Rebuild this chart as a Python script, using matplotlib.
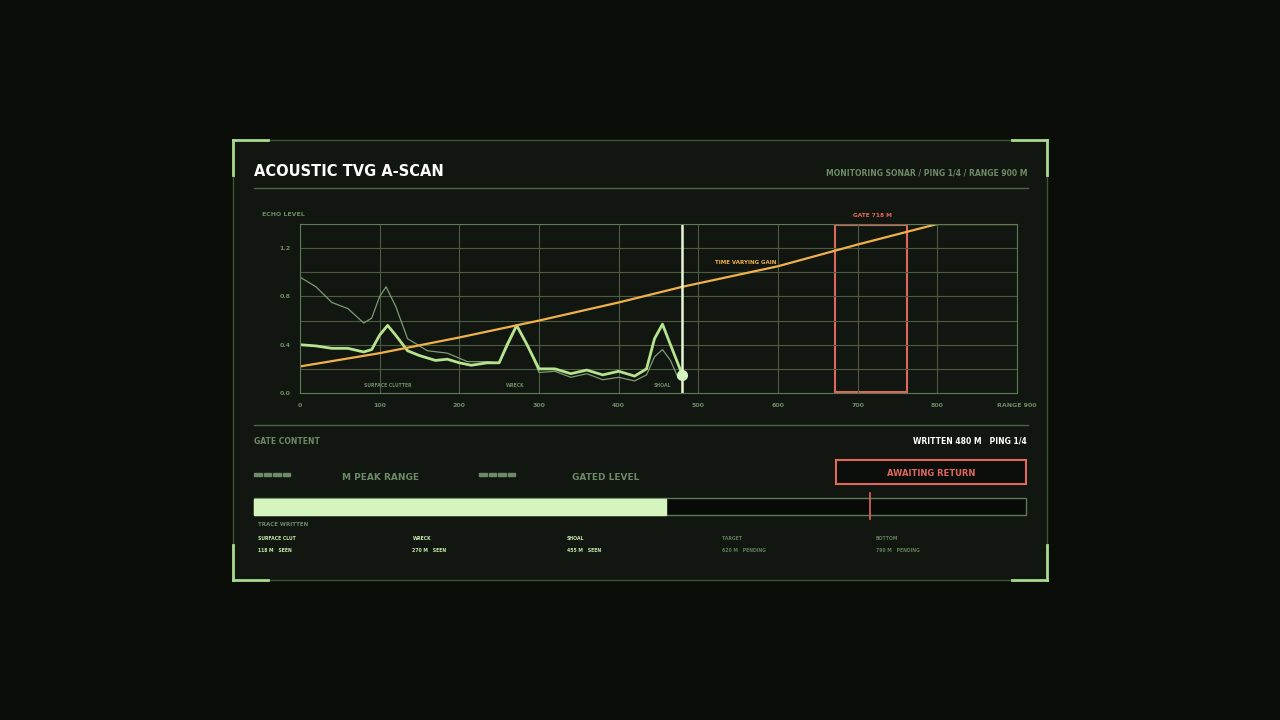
import matplotlib
matplotlib.use("Agg")
import matplotlib.pyplot as plt
from matplotlib.patches import Rectangle
import numpy as np

plt.rcParams['font.family'] = ['DejaVu Sans']

# data
bright_x = [0,20,40,60,80,90,100,110,120,135,150,170,185,200,215,235,250,260,272,285,300,320,340,360,380,400,420,435,445,455,465,480]
bright_y = [0.40,0.39,0.37,0.37,0.34,0.36,0.48,0.56,0.48,0.35,0.31,0.27,0.28,0.25,0.23,0.25,0.25,0.40,0.56,0.40,0.20,0.20,0.16,0.19,0.15,0.18,0.14,0.20,0.45,0.57,0.40,0.15]
raw_x = [0,20,40,60,80,90,100,108,120,135,160,185,210,235,250,260,272,285,300,320,340,360,380,400,420,435,445,455,465,475]
raw_y = [0.96,0.88,0.75,0.70,0.58,0.62,0.80,0.88,0.72,0.45,0.35,0.33,0.26,0.26,0.25,0.38,0.55,0.40,0.17,0.18,0.13,0.16,0.11,0.13,0.10,0.15,0.30,0.36,0.27,0.12]
tvg_x = [0,100,200,300,400,480,600,700,800,900]
tvg_y = [0.22,0.33,0.46,0.60,0.75,0.88,1.05,1.23,1.40,1.40]
cursor_m = 480
gate_lo, gate_hi, gate_m = 672, 762, 718
xticks = [0,100,200,300,400,500,600,700,800]
yticks = [0.0,0.4,0.8,1.2]
labels = [("SURFACE CLUTTER",110),("WRECK",270),("SHOAL",455)]
cards = [("SURFACE CLUT","118 M   SEEN",True),("WRECK","270 M   SEEN",True),("SHOAL","455 M   SEEN",True),("TARGET","620 M   PENDING",False),("BOTTOM","790 M   PENDING",False)]

W,H = 1280,720
BG = '#0b0d09'; PANEL = '#121610'; GRID = '#4a5c44'; DIM = '#6d8a66'; BRIGHT = '#d4f5c0'
fig = plt.figure(figsize=(12.8,7.2), dpi=100, facecolor=BG)
ov = fig.add_axes([0,0,1,1]); ov.set_xlim(0,W); ov.set_ylim(H,0); ov.axis('off')

ov.add_patch(Rectangle((233,140),814,440,facecolor=PANEL,edgecolor='#3e5238',lw=1))
for (cx,cy,dx,dy) in [(233,140,1,1),(1047,140,-1,1),(233,580,1,-1),(1047,580,-1,-1)]:
    ov.plot([cx,cx+dx*35],[cy,cy],color='#a9d98f',lw=2)
    ov.plot([cx,cx],[cy,cy+dy*35],color='#a9d98f',lw=2)
ov.text(254,172,"ACOUSTIC TVG A-SCAN",color='white',fontsize=10.5,fontweight='bold',va='center')
ov.text(1027,173,"MONITORING SONAR / PING 1/4 / RANGE 900 M",color=DIM,fontsize=5.5,fontweight='bold',va='center',ha='right')
ov.plot([254,1028],[188,188],color='#4e6447',lw=1)
ov.text(262,214,"ECHO LEVEL",color=DIM,fontsize=4.5,fontweight='bold',va='center')
ov.plot([254,1028],[425,425],color='#4e6447',lw=1)
ov.text(254,441,"GATE CONTENT",color=DIM,fontsize=5.5,fontweight='bold',va='center')
ov.text(1027,441,"WRITTEN 480 M   PING 1/4",color='white',fontsize=5.5,fontweight='bold',va='center',ha='right')
for bx in (254,479):
    for i in range(4):
        ov.add_patch(Rectangle((bx+i*9.5,473),7.5,3,color=DIM))
ov.text(381,478,"M PEAK RANGE",color=DIM,fontsize=6.5,fontweight='bold',va='center',ha='center')
ov.text(606,478,"GATED LEVEL",color=DIM,fontsize=6.5,fontweight='bold',va='center',ha='center')
ov.add_patch(Rectangle((836,460),190,24,facecolor='#0c0e0b',edgecolor='#e0675d',lw=1.5))
ov.text(931,474,"AWAITING RETURN",color='#e0675d',fontsize=6,fontweight='bold',va='center',ha='center')
bx0,bx1 = 254,1026
ov.add_patch(Rectangle((bx0,498),bx1-bx0,17,facecolor='#080a07',edgecolor='#5d7a56',lw=1))
ov.add_patch(Rectangle((bx0,498.5),(bx1-bx0)*cursor_m/900,16,color=BRIGHT))
gx = bx0+(bx1-bx0)*gate_m/900
ov.plot([gx,gx],[493,519],color='#e0675d',lw=1.2)
ov.text(258,524,"TRACE WRITTEN",color=DIM,fontsize=4,fontweight='bold',va='center')
for i,(a,b,seen) in enumerate(cards):
    x = 258+i*154.5
    c = '#c6e8ab' if seen else '#5d7a56'
    ov.text(x,538,a,color=c,fontsize=3.3,fontweight='bold',va='center')
    ov.text(x,550,b,color=c,fontsize=3.3,fontweight='bold',va='center')

ax = fig.add_axes([300/W,(H-393)/H,717/W,169/H])
ax.set_facecolor(PANEL)
ax.set_xlim(0,900); ax.set_ylim(0,1.4)
for s in ax.spines.values(): s.set_color('#5d7a56')
ax.set_xticks(xticks+[900]); ax.set_xticklabels([str(t) for t in xticks]+["RANGE 900"])
ax.set_yticks(np.arange(0,1.41,0.2)); ax.set_yticklabels([f"{t:.1f}" if any(abs(t-y)<1e-6 for y in yticks) else "" for t in np.arange(0,1.41,0.2)])
ax.tick_params(colors=DIM,labelsize=4.5,length=0,pad=7)
for l in ax.get_xticklabels()+ax.get_yticklabels(): l.set_fontweight('bold')
ax.grid(True,color=GRID,lw=0.8)
ax.plot(raw_x,raw_y,color='#7d9a72',lw=0.9)
ax.plot(bright_x,bright_y,color='#b6e38e',lw=2)
ax.plot(tvg_x,tvg_y,color='#f0b14a',lw=1.6)
ax.axvline(cursor_m,color='#e6f7d6',lw=1.8)
ax.plot([cursor_m],[bright_y[-1]],'o',color=BRIGHT,ms=7)
ax.add_patch(Rectangle((gate_lo,0.01),gate_hi-gate_lo,1.38,fill=False,edgecolor='#e0675d',lw=1.5))
ax.text(gate_m,1.47,f"GATE {gate_m} M",color='#e0675d',fontsize=4.2,fontweight='bold',ha='center',va='center',clip_on=False)
ax.text(560,1.08,"TIME VARYING GAIN",color='#f0b14a',fontsize=4,fontweight='bold',ha='center',va='center')
for t,xm in labels:
    ax.text(xm,0.06,t,color=DIM,fontsize=3.3,fontweight='bold',ha='center',va='center')
fig.savefig("out.png",dpi=100,facecolor=BG)
